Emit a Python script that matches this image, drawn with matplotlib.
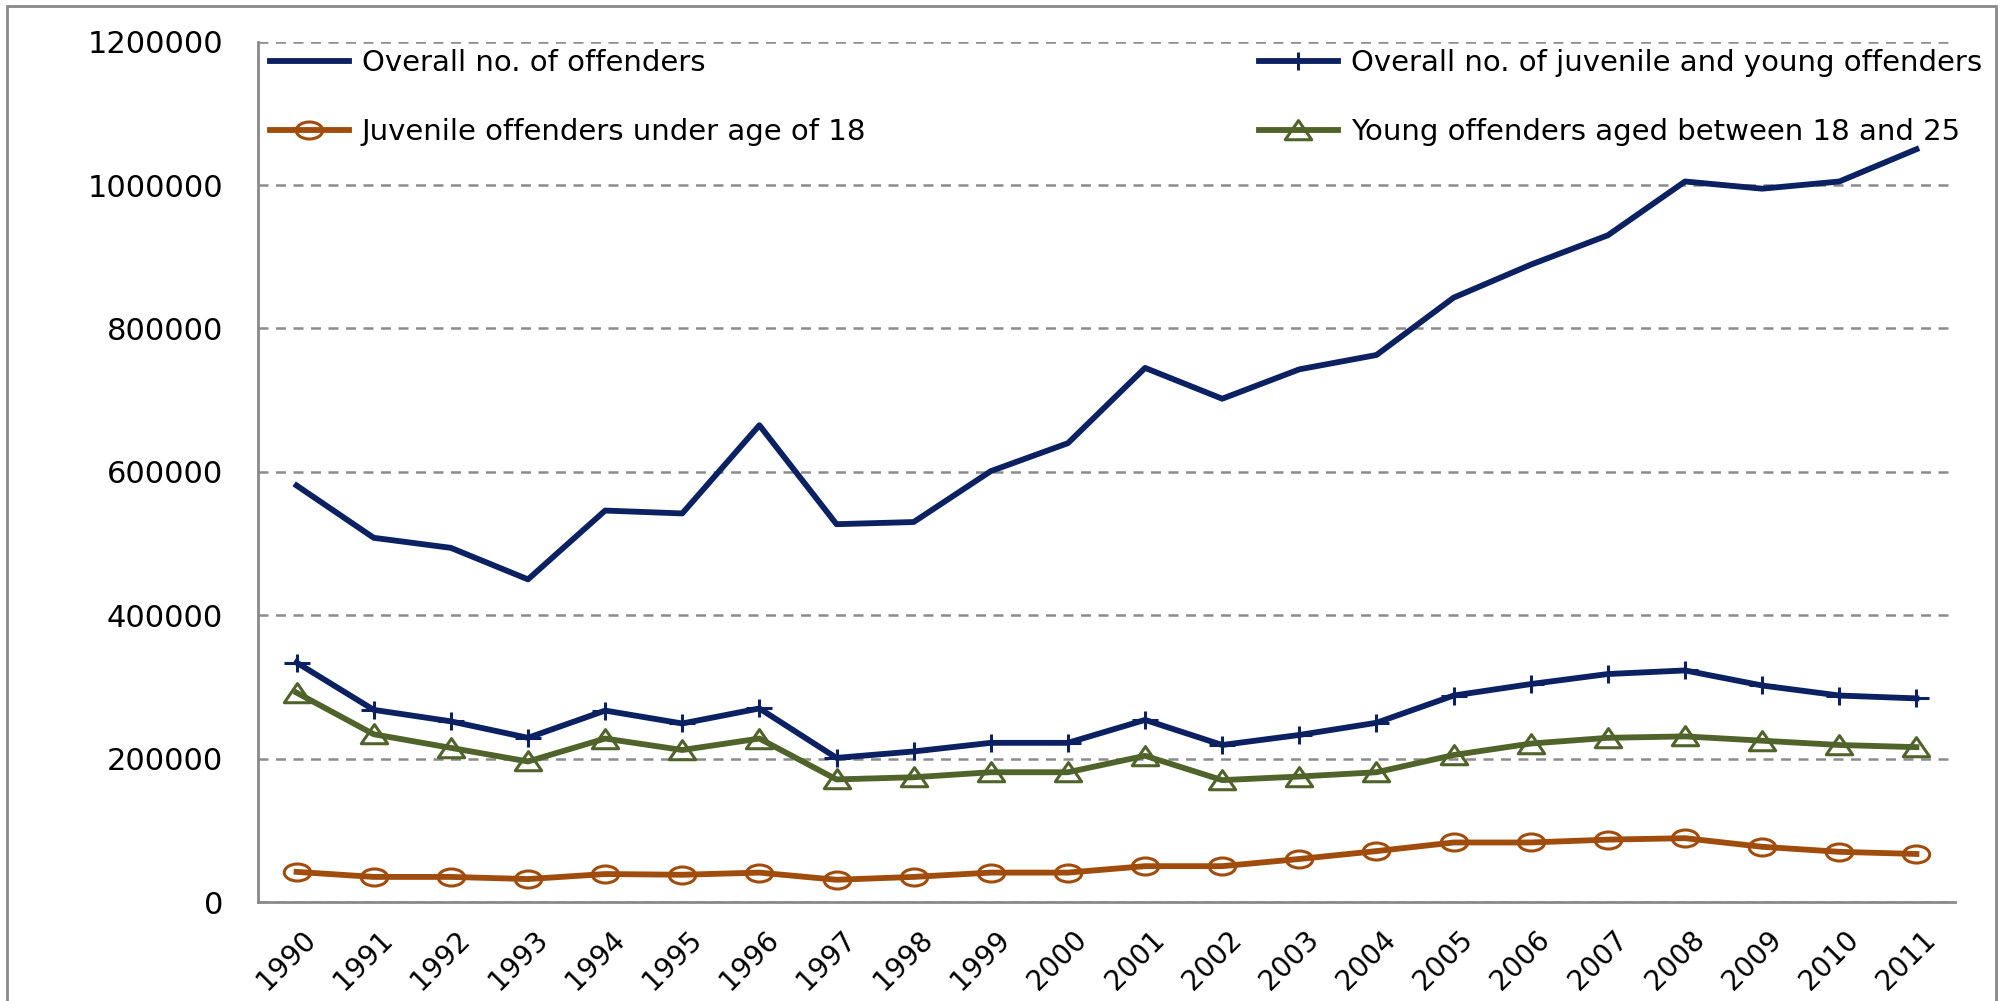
import numpy as np
import matplotlib
matplotlib.use("Agg")
import matplotlib.pyplot as plt
from matplotlib.path import Path
from matplotlib.transforms import Affine2D, ScaledTranslation
from matplotlib.patches import Rectangle

# Category labels (years)
years = ["1990", "1991", "1992", "1993", "1994", "1995", "1996", "1997", "1998",
         "1999", "2000", "2001", "2002", "2003", "2004", "2005", "2006", "2007",
         "2008", "2009", "2010", "2011"]

# Values
overall = [581000, 508000, 494000, 450000, 546000, 542000, 665000, 527000, 530000,
           601000, 640000, 745000, 702000, 743000, 763000, 843000, 889000, 930000,
           1005000, 995000, 1005000, 1050000]
juvenile_young = [334000, 268000, 252000, 229000, 267000, 249000, 270000, 201000, 210000,
                  222000, 222000, 254000, 219000, 233000, 250000, 288000, 304000, 318000,
                  323000, 302000, 288000, 284000]
juvenile_u18 = [42000, 35000, 35000, 32000, 39000, 38000, 41000, 31000, 35000,
                41000, 41000, 50000, 50000, 60000, 71000, 83000, 83000, 87000,
                89000, 77000, 70000, 67000]
young_18_25 = [292000, 234000, 215000, 196000, 228000, 212000, 228000, 171000, 174000,
               181000, 181000, 204000, 170000, 175000, 181000, 205000, 221000, 229000,
               231000, 225000, 219000, 216000]

labels = ["Overall no. of offenders",
          "Overall no. of juvenile and young offenders",
          "Juvenile offenders under age of 18",
          "Young offenders aged between 18 and 25"]

NAVY = "#0b2161"
BROWN = "#a04c0c"
GREEN = "#50632a"
GRID = "#8c8c8c"

plt.rcParams["font.family"] = ["DejaVu Sans"]

# The source picture is stretched sideways, so the markers are wider than tall
circle_m = Path.unit_circle().transformed(Affine2D().scale(1.55, 1.0))
triangle_m = Path([(-1.0, -0.7), (1.0, -0.7), (0.0, 0.75), (-1.0, -0.7)],
                  [Path.MOVETO, Path.LINETO, Path.LINETO, Path.CLOSEPOLY])
plus_m = Path([(-1.0, 0.0), (1.0, 0.0), (0.0, -0.7), (0.0, 0.7)],
              [Path.MOVETO, Path.LINETO, Path.MOVETO, Path.LINETO])

W, H = 2008, 1001
fig = plt.figure(figsize=(W / 100, H / 100), dpi=100)

# grey frame around the whole chart (bottom edge runs off the picture)
fig.patches.append(Rectangle((7 / W, -0.02), (1996 - 7) / W, 1 - 6 / H + 0.02,
                             transform=fig.transFigure, fill=False,
                             edgecolor="#8a8a8a", linewidth=2.0))

ax = fig.add_axes([258 / W, 1 - 902 / H, (1955 - 258) / W, (902 - 41.7) / H])
x = np.arange(len(years))

lw = 4.2
mew = 2.2
l1, = ax.plot(x, overall, color=NAVY, lw=lw)
l2, = ax.plot(x, juvenile_young, color=NAVY, lw=lw, marker=plus_m, ms=19,
              mfc="none", mec=NAVY, mew=mew)
l3, = ax.plot(x, juvenile_u18, color=BROWN, lw=lw, marker=circle_m, ms=19,
              mfc="none", mec=BROWN, mew=mew)
l4, = ax.plot(x, young_18_25, color=GREEN, lw=lw, marker=triangle_m, ms=19,
              mfc="none", mec=GREEN, mew=mew)

ax.set_xlim(-0.5, len(years) - 0.5)
ax.set_ylim(0, 1200000)
ax.set_yticks(np.arange(0, 1200001, 200000))
ax.set_yticklabels([str(v) for v in range(0, 1200001, 200000)])
ax.set_xticks(x)
ax.set_xticklabels(years)

ax.grid(axis="y", color=GRID, linestyle=(0, (4, 3)), linewidth=1.8)
ax.set_axisbelow(True)
for side in ["top", "right"]:
    ax.spines[side].set_visible(False)
for side in ["left", "bottom"]:
    ax.spines[side].set_color("#8a8a8a")
    ax.spines[side].set_linewidth(2.0)

ax.tick_params(axis="y", length=0, pad=25, labelsize=22)
ax.tick_params(axis="x", length=0, pad=24, labelsize=20)
shift = ScaledTranslation(0.15, 0, fig.dpi_scale_trans)
for lab in ax.get_xticklabels():
    lab.set_rotation(45)
    lab.set_ha("right")
    lab.set_va("center")
    lab.set_rotation_mode("anchor")
    lab.set_transform(lab.get_transform() + shift)

# legend: two columns spread across the top of the plot
leg = fig.legend([l1, l3, l2, l4], [labels[0], labels[2], labels[1], labels[3]],
                 ncol=2, loc="upper left", mode="expand",
                 bbox_to_anchor=(270 / W, 1 - 49 / H, (1982 - 270) / W, 0),
                 frameon=False, fontsize=21, handlelength=2.7, handletextpad=0.45,
                 borderpad=0, borderaxespad=0, labelspacing=1.42)

fig.savefig("out.png", dpi=100)
